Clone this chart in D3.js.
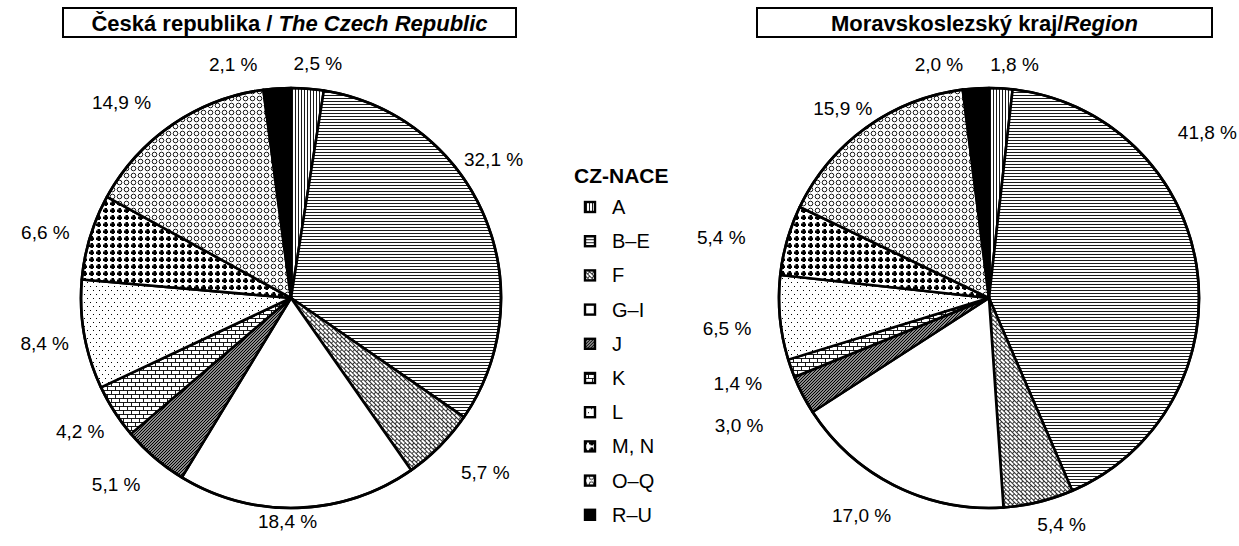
<!DOCTYPE html>
<html>
<head>
<meta charset="utf-8">
<script src="https://cdn.jsdelivr.net/npm/d3@7"></script>
<style>
  body { margin: 0; background: #fff; }
  text { font-family: "Liberation Sans", Arial, sans-serif; fill: #000; }
</style>
</head>
<body>
<div id="chart"></div>
<script>
(function() {
	// CZ-NACE sections, clockwise from the top
	var categories = ["A", "B–E", "F", "G–I", "J", "K", "L", "M, N", "O–Q", "R–U"];
	var czValues = [2.5, 32.1, 5.7, 18.4, 5.1, 4.2, 8.4, 6.6, 14.9, 2.1];
	var msValues = [1.8, 41.8, 5.4, 17.0, 3.0, 1.4, 6.5, 5.4, 15.9, 2.0];

	// labels were hand-moved in the original, so keep the nudges
	var czLabelNudge = [[8,5],[-18,-44],[24,5],[-11,-16],[-19,4],[-9,4],[-10,3],[-16,4],[-34,3],[-42,6]];
	var msLabelNudge = [[12,6],[-19,-130],[16,-7],[-20,3],[-37,17],[-25,5],[-23,8],[-37,6],[-6,5],[-35,6]];

	var width = 1239, height = 546;

	var svg = d3.select("#chart")
				.append("svg")
				.attr("width", width)
				.attr("height", height);

	var defs = svg.append("defs");

	function pat(id, w, h, draw, transform, bg) {
		var p = defs.append("pattern")
			.attr("id", id)
			.attr("patternUnits", "userSpaceOnUse")
			.attr("width", w)
			.attr("height", h);
		if (transform) p.attr("patternTransform", transform);
		p.append("rect").attr("width", w).attr("height", h).attr("fill", bg || "#fff");
		draw(p);
	}

	function dot(p, x, y) {
		p.append("rect").attr("x", x).attr("y", y).attr("width", 1).attr("height", 1)
			.attr("fill", "#000").attr("shape-rendering", "crispEdges");
	}

	pat("pA", 3, 3, function(p) {
		p.append("path").attr("d", "M1.5,0V3").attr("stroke", "#000").attr("stroke-width", 0.9);
	});
	pat("pB", 3, 3, function(p) {
		p.append("path").attr("d", "M0,1.5H3").attr("stroke", "#000").attr("stroke-width", 0.9);
	});
	pat("pF", 6, 6, function(p) {
		p.append("path").attr("d", "M0,0.5H6M0,3.5H6M0.5,0.5V3.5M3.5,3.5V6.5")
			.attr("stroke", "#000").attr("stroke-width", 0.8).attr("fill", "none");
	}, "rotate(45)");
	// dark stipple: grey base with black specks
	pat("pJ", 3, 3, function(p) {
		dot(p, 0, 0);
		dot(p, 2, 1);
		dot(p, 1, 2);
	}, null, "#8a8a8a");
	pat("pK", 8, 8, function(p) {
		p.append("path").attr("d", "M0,0.5H8M0,4.5H8M0.5,0.5V4.5M4.5,4.5V8.5")
			.attr("stroke", "#000").attr("stroke-width", 0.9).attr("fill", "none");
	});
	pat("pL", 6, 8, function(p) {
		dot(p, 0, 0);
		dot(p, 3, 4);
	});
	pat("pMN", 7, 7, function(p) {
		p.append("path").attr("d", "M1,2.5H6V5H1ZM2.5,1H5V6H2.5Z").attr("fill", "#000");
	});
	pat("pOQ", 7, 7, function(p) {
		p.append("circle").attr("cx", 3.5).attr("cy", 3.5).attr("r", 2.3)
			.attr("fill", "none").attr("stroke", "#000").attr("stroke-width", 0.9);
	});

	var fills = ["url(#pA)", "url(#pB)", "url(#pF)", "#fff", "url(#pJ)",
				 "url(#pK)", "url(#pL)", "url(#pMN)", "url(#pOQ)", "#000"];

	var colorScale = d3.scaleOrdinal().domain(categories).range(fills);

	var pie = d3.pie().sort(null).value(function(d) { return d.value; });
	var radius = 210;
	var arc = d3.arc().innerRadius(0).outerRadius(radius);

	function fmt(v) {
		return v.toFixed(1).replace(".", ",") + " %";
	}

	function drawPie(values, nudges, cx, cy) {
		var data = categories.map(function(c, i) { return { cat: c, value: values[i] }; });
		var g = svg.append("g").attr("transform", "translate(" + cx + "," + cy + ")");

		g.selectAll("path")
			.data(pie(data))
			.enter()
			.append("path")
			.attr("d", arc)
			.attr("fill", function(d) { return colorScale(d.data.cat); })
			.attr("stroke", "#000")
			.attr("stroke-width", 2.6)
			.attr("stroke-linejoin", "round");

		g.append("circle")
			.attr("r", radius)
			.attr("fill", "none")
			.attr("stroke", "#000")
			.attr("stroke-width", 2.6);

		g.selectAll("text")
			.data(pie(data))
			.enter()
			.append("text")
			.attr("x", function(d, i) {
				var a = (d.startAngle + d.endAngle) / 2;
				return (radius + 30) * Math.sin(a) + nudges[i][0];
			})
			.attr("y", function(d, i) {
				var a = (d.startAngle + d.endAngle) / 2;
				return -(radius + 30) * Math.cos(a) + nudges[i][1];
			})
			.attr("text-anchor", "middle")
			.attr("dominant-baseline", "central")
			.attr("font-size", 19)
			.text(function(d) { return fmt(d.data.value); });
	}

	drawPie(czValues, czLabelNudge, 291, 298);
	drawPie(msValues, msLabelNudge, 989, 298);

	// title boxes
	function titleBox(x, w, plain, italic) {
		svg.append("rect")
			.attr("x", x).attr("y", 8)
			.attr("width", w).attr("height", 29)
			.attr("fill", "#fff")
			.attr("stroke", "#000")
			.attr("stroke-width", 2);
		var t = svg.append("text")
			.attr("x", x + w / 2).attr("y", 23)
			.attr("text-anchor", "middle")
			.attr("dominant-baseline", "central")
			.attr("font-size", 22)
			.attr("font-weight", "bold");
		t.append("tspan").text(plain);
		t.append("tspan").attr("font-style", "italic").text(italic);
	}
	titleBox(63, 453, "Česká republika / ", "The Czech Republic");
	titleBox(757, 455, "Moravskoslezský kraj/", "Region");

	// legend
	var legend = svg.append("g");
	legend.append("text")
		.attr("x", 574).attr("y", 175)
		.attr("dominant-baseline", "central")
		.attr("font-size", 21)
		.attr("font-weight", "bold")
		.text("CZ-NACE");

	var items = legend.selectAll("g.item")
		.data(categories)
		.enter()
		.append("g")
		.attr("class", "item")
		.attr("transform", function(d, i) { return "translate(0," + (207 + i * 34.2) + ")"; });

	items.append("rect")
		.attr("x", 585).attr("y", -5)
		.attr("width", 10).attr("height", 10)
		.attr("fill", function(d) { return colorScale(d); })
		.attr("stroke", "#000")
		.attr("stroke-width", 2.4);

	items.append("text")
		.attr("x", 612).attr("y", 0)
		.attr("dominant-baseline", "central")
		.attr("font-size", 20)
		.text(function(d) { return d; });
})();
</script>
</body>
</html>
